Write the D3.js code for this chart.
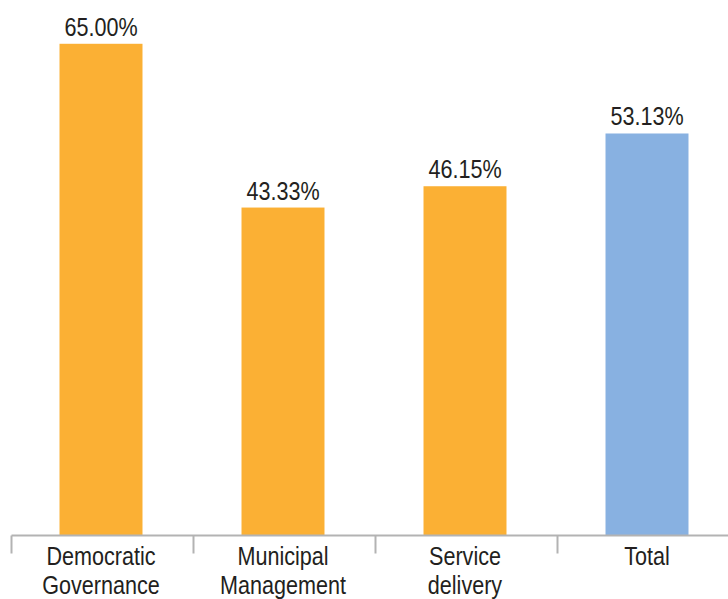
<!DOCTYPE html>
<html>
<head>
<meta charset="utf-8">
<script src="https://cdn.jsdelivr.net/npm/d3@7"></script>
<style>
  body { margin: 0; background: #fff; }
  text { font-family: "Liberation Sans", Arial, sans-serif; fill: #231f20; }
</style>
</head>
<body>
<div id="chart"></div>
<script>
const categories = [["Democratic", "Governance"], ["Municipal", "Management"], ["Service", "delivery"], ["Total"]];
const values = [65.00, 43.33, 46.15, 53.13];
const barColors = ["#fbb034", "#fbb034", "#fbb034", "#88b1e1"];

const margin = { top: 6, right: -10, bottom: 64, left: 10 },
    width = 728 - margin.left - margin.right,
    height = 599 - margin.top - margin.bottom;

// the source font is a narrow sans, so squeeze the text a bit
const squeeze = 0.83, fontSize = 26;
// category separators sit slightly right of the band edges
const tickShift = 1.5;

let svg = d3.select("#chart")
    .append("svg")
    .attr("width", 728)
    .attr("height", 599);

let group = svg.append("g")
    .attr("transform", "translate(" + margin.left + "," + margin.top + ")");

const keys = categories.map(d => d.join(" "));

var x = d3.scaleBand()
    .domain(keys)
    .range([0, width])
    .paddingInner(0.544)
    .paddingOuter(0.272);

var y = d3.scaleLinear()
    .domain([0, 70])
    .range([height, 0]);

// bars
group.selectAll(".bar")
    .data(values)
    .join("rect")
    .attr("class", "bar")
    .attr("x", (d, i) => x(keys[i]))
    .attr("y", d => y(d))
    .attr("width", x.bandwidth())
    .attr("height", d => height - y(d))
    .style("fill", (d, i) => barColors[i]);

// value labels
group.selectAll(".val")
    .data(values)
    .join("text")
    .attr("class", "val")
    .attr("transform", (d, i) => `translate(${x(keys[i]) + x.bandwidth() / 2},${y(d) - 8}) scale(${squeeze},1)`)
    .attr("text-anchor", "middle")
    .attr("font-size", fontSize)
    .text(d => d.toFixed(2) + "%");

// x axis with ticks between categories
let axis = group.append("g")
    .attr("class", "axis x-axis")
    .attr("transform", `translate(0, ${height + 0.5})`);

axis.append("line")
    .attr("x1", tickShift).attr("x2", width + tickShift)
    .attr("stroke", "#b3b3b3").attr("stroke-width", 2);

const step = x.step();
axis.selectAll(".tick")
    .data(d3.range(keys.length + 1))
    .join("line")
    .attr("class", "tick")
    .attr("x1", i => i * step + tickShift).attr("x2", i => i * step + tickShift)
    .attr("y1", 0).attr("y2", 18)
    .attr("stroke", "#b3b3b3").attr("stroke-width", 2);

let labels = axis.selectAll(".cat")
    .data(categories)
    .join("text")
    .attr("class", "cat")
    .attr("text-anchor", "middle")
    .attr("font-size", fontSize)
    .attr("transform", (d, i) => `translate(${x(keys[i]) + x.bandwidth() / 2},29) scale(${squeeze},1)`);

labels.selectAll("tspan")
    .data(d => d)
    .join("tspan")
    .attr("x", 0)
    .attr("dy", (d, i) => i === 0 ? 0 : 30)
    .text(d => d);
</script>
</body>
</html>
